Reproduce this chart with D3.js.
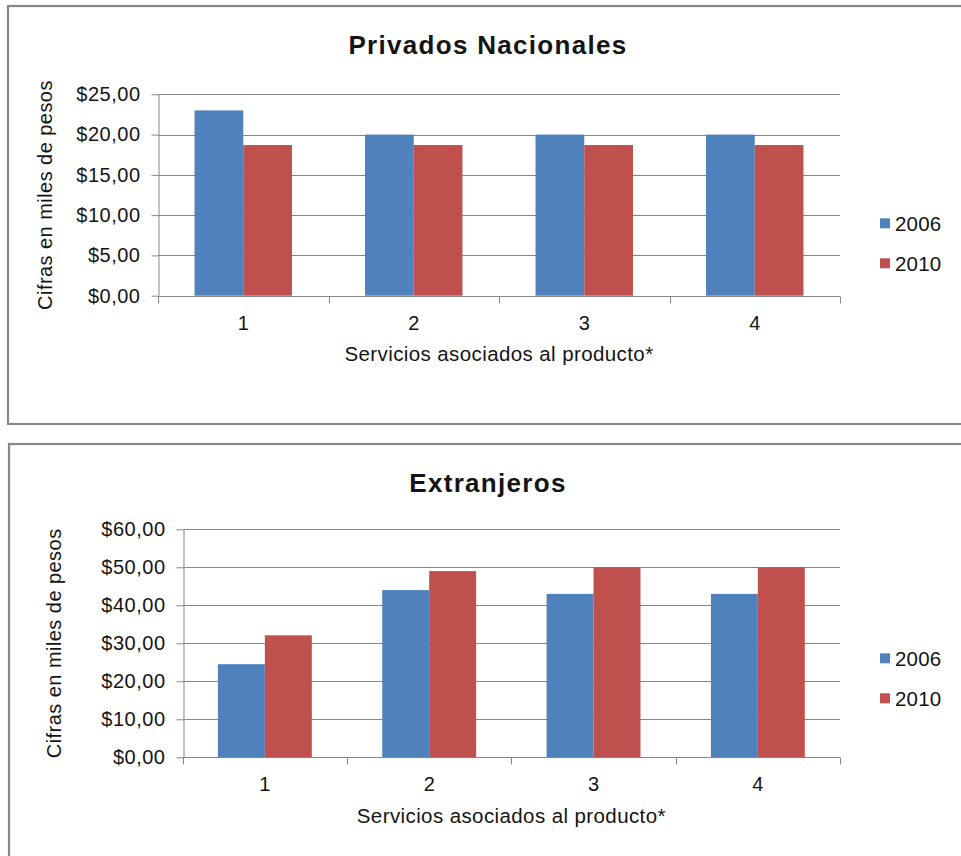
<!DOCTYPE html>
<html>
<head>
<meta charset="utf-8">
<script src="https://cdn.jsdelivr.net/npm/d3@7"></script>
<style>
  html, body { margin: 0; padding: 0; background: #ffffff; }
  svg { display: block; font-family: "Liberation Sans", Arial, sans-serif; }
</style>
</head>
<body>
<svg id="chart" width="961" height="856"></svg>
<script>
// Categories and series
const categories = ["1", "2", "3", "4"];
const seriesNames = ["2006", "2010"];
const seriesColors = ["#4F81BD", "#C0504D"];

// Privados Nacionales (miles de pesos)
const nacionales2006 = [23.0, 20.0, 20.0, 20.0];
const nacionales2010 = [18.7, 18.7, 18.7, 18.7];
const nacionalesTicks = [0, 5, 10, 15, 20, 25];

// Extranjeros (miles de pesos)
const extranjeros2006 = [24.5, 44.0, 43.0, 43.0];
const extranjeros2010 = [32.1, 49.0, 50.0, 50.0];
const extranjerosTicks = [0, 10, 20, 30, 40, 50, 60];

const xTitle = "Servicios asociados al producto*";
const yTitle = "Cifras en miles de pesos";

const svg = d3.select("#chart");
const gridColor = "#878787";
const textColor = "#141414";

const fmtPeso = v => "$" + v.toFixed(2).replace(".", ",");

function drawChart(opts) {
  const g = svg.append("g");

  // chart frame (runs past the right/bottom edges)
  g.append("rect")
    .attr("x", opts.frame[0]).attr("y", opts.frame[1])
    .attr("width", opts.frame[2]).attr("height", opts.frame[3])
    .attr("fill", "#ffffff")
    .attr("stroke", "#878787").attr("stroke-width", 2.2);

  const { left, right, top, bottom } = opts.plot;

  const y = d3.scaleLinear()
    .domain([0, d3.max(opts.ticks)])
    .range([bottom, top]);

  const x0 = d3.scaleBand()
    .domain(categories)
    .range([left, right])
    .paddingInner(0).paddingOuter(0);

  const x1 = d3.scaleBand()
    .domain(seriesNames)
    .range([0, x0.bandwidth()])
    .paddingInner(0).paddingOuter(0.75);

  // horizontal gridlines
  g.append("g")
    .selectAll("line")
    .data(opts.ticks.filter(t => t > 0))
    .join("line")
    .attr("x1", left).attr("x2", right)
    .attr("y1", d => Math.round(y(d)) + 0.5).attr("y2", d => Math.round(y(d)) + 0.5)
    .attr("stroke", gridColor).attr("stroke-width", 1);

  // bars
  const rows = categories.map((c, i) => ({ cat: c, values: opts.series.map((s, k) => ({ name: seriesNames[k], value: s[i], k })) }));
  g.append("g")
    .selectAll("g")
    .data(rows)
    .join("g")
    .attr("transform", d => `translate(${x0(d.cat)},0)`)
    .selectAll("rect")
    .data(d => d.values)
    .join("rect")
    .attr("x", d => x1(d.name))
    .attr("width", x1.bandwidth())
    .attr("y", d => y(d.value))
    .attr("height", d => y(0) - y(d.value))
    .attr("fill", d => seriesColors[d.k]);

  // y axis
  const yAxis = d3.axisLeft(y)
    .tickValues(opts.ticks)
    .tickSize(7)
    .tickPadding(11)
    .tickFormat(fmtPeso);
  const ya = g.append("g")
    .attr("transform", `translate(${Math.round(left) + 0.5},0)`)
    .call(yAxis);
  ya.select(".domain").attr("stroke", gridColor).attr("d", `M0.5,${top}V${bottom}`);
  ya.selectAll(".tick line").attr("stroke", gridColor);
  ya.selectAll(".tick text")
    .attr("fill", textColor)
    .style("font-size", "20px")
    .style("letter-spacing", "0.5px");

  // x axis with ticks at category boundaries
  const xa = g.append("g")
    .attr("transform", `translate(0,${Math.round(bottom) + 0.5})`);
  xa.append("line")
    .attr("x1", left).attr("x2", right)
    .attr("stroke", gridColor);
  const bounds = categories.map(c => x0(c)).concat([right]);
  xa.selectAll("line.tk")
    .data(bounds)
    .join("line").attr("class", "tk")
    .attr("x1", d => Math.round(d) + 0.5).attr("x2", d => Math.round(d) + 0.5)
    .attr("y1", 0).attr("y2", 7)
    .attr("stroke", gridColor);
  xa.selectAll("text")
    .data(categories)
    .join("text")
    .attr("x", d => x0(d) + x0.bandwidth() / 2)
    .attr("y", 33)
    .attr("text-anchor", "middle")
    .attr("fill", textColor)
    .style("font-size", "20px")
    .text(d => d);

  // x axis title
  g.append("text")
    .attr("x", (left + right) / 2)
    .attr("y", bottom + 65.5)
    .attr("text-anchor", "middle")
    .attr("fill", textColor)
    .style("font-size", "20.5px")
    .style("letter-spacing", "0.4px")
    .text(xTitle);

  // y axis title
  g.append("text")
    .attr("transform", `translate(${opts.yTitleX},${(top + bottom) / 2}) rotate(-90)`)
    .attr("text-anchor", "middle")
    .attr("fill", textColor)
    .style("font-size", "20px")
    .style("letter-spacing", "0.45px")
    .text(yTitle);

  // chart title
  g.append("text")
    .attr("x", 488)
    .attr("y", opts.titleY)
    .attr("text-anchor", "middle")
    .attr("fill", textColor)
    .style("font-size", "26px")
    .style("font-weight", "bold")
    .style("letter-spacing", "1.3px")
    .text(opts.title);

  // legend
  const lg = g.append("g")
    .attr("transform", `translate(880,${top + 124})`);
  const items = lg.selectAll("g")
    .data(seriesNames)
    .join("g")
    .attr("transform", (d, i) => `translate(0,${i * 40})`);
  items.append("rect")
    .attr("width", 10).attr("height", 10)
    .attr("fill", (d, i) => seriesColors[i]);
  items.append("text")
    .attr("x", 15).attr("y", 12.5)
    .attr("fill", textColor)
    .style("font-size", "20.5px")
    .style("letter-spacing", "0.2px")
    .text(d => d);
}

drawChart({
  title: "Privados Nacionales",
  frame: [8, 6, 980, 418],
  plot: { left: 158, right: 840, top: 94.3, bottom: 295.7 },
  titleY: 54,
  yTitleX: 52,
  ticks: nacionalesTicks,
  series: [nacionales2006, nacionales2010]
});

drawChart({
  title: "Extranjeros",
  frame: [9, 444, 980, 440],
  plot: { left: 182.7, right: 840, top: 529.3, bottom: 757.3 },
  titleY: 491.7,
  yTitleX: 61,
  ticks: extranjerosTicks,
  series: [extranjeros2006, extranjeros2010]
});
</script>
</body>
</html>
